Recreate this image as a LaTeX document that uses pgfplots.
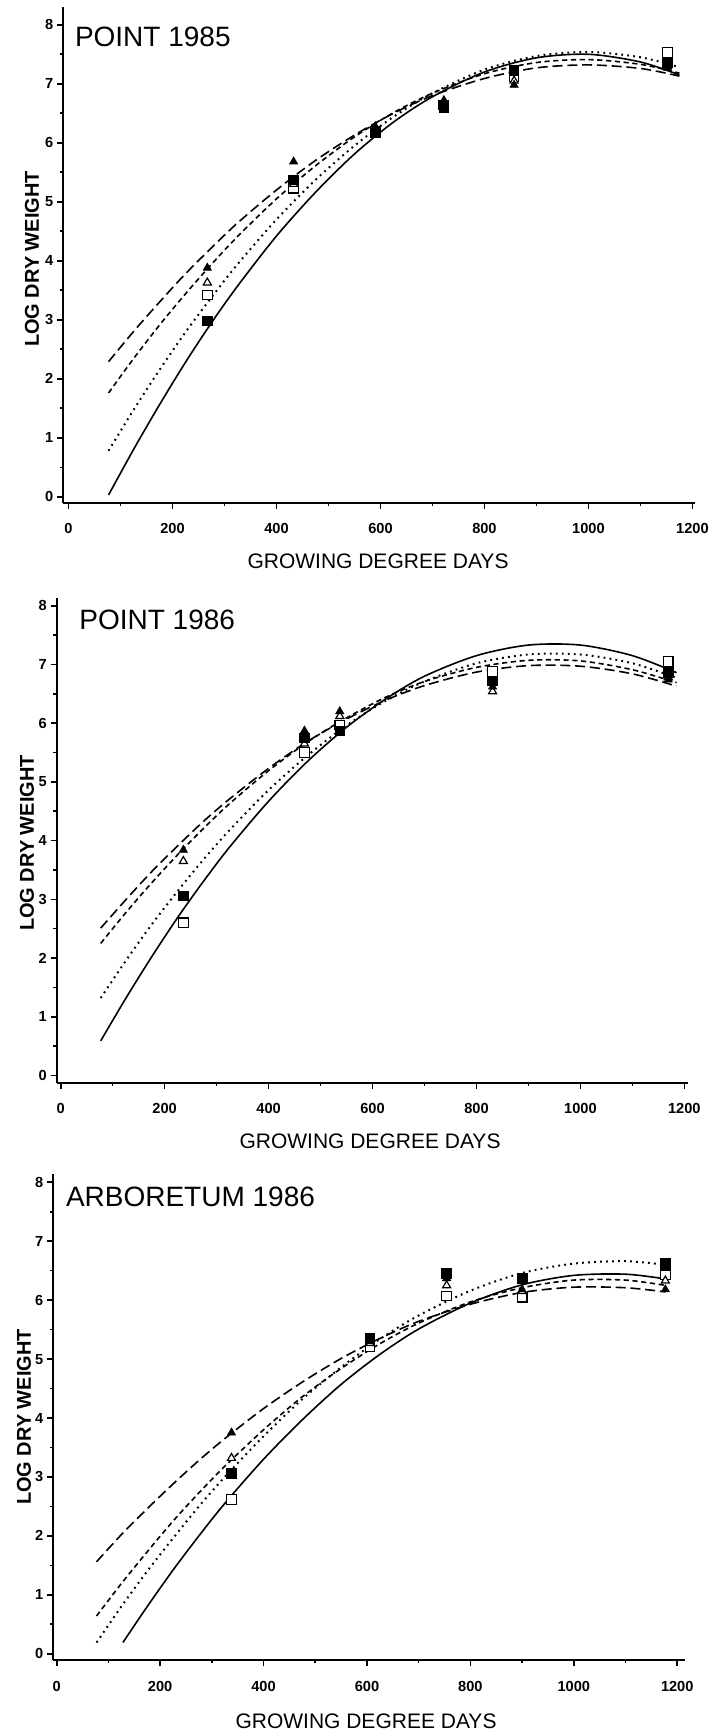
\documentclass[border=0pt]{standalone}
\usepackage{fontspec}
\setmainfont{Liberation Sans}
\usepackage{pgfplots}
\pgfplotsset{compat=1.18}
\pgfplotsset{
  gddaxis/.style={
    scale only axis,
    anchor=south west,
    axis x line=bottom, axis y line=left,
    axis line style={-, line width=1pt, black},
    every outer x axis line/.append style={-},
    every outer y axis line/.append style={-},
    xtick={0,200,...,1200}, ytick={0,1,...,8},
    minor x tick num=1, minor y tick num=1,
    tick align=outside,
    major tick length=3pt, minor tick length=1.6pt,
    tick style={line width=0.8pt, black},
    tick label style={font=\fontsize{7.3}{8}\selectfont\bfseries},
    xticklabel style={yshift=-4pt},
    yticklabel style={xshift=1.5pt},
    /pgf/number format/assume math mode=true,
    /pgf/number format/1000 sep={},
    clip=false,
  },
  sl/.style={black, line width=0.8pt, smooth, no marks},
  dt/.style={black, line width=1pt, smooth, no marks, dash pattern=on 0.9pt off 2.1pt},
  sd/.style={black, line width=0.8pt, smooth, no marks, dash pattern=on 2.6pt off 1.8pt},
  ld/.style={black, line width=0.8pt, smooth, no marks, dash pattern=on 5pt off 2.4pt},
  mfs/.style={black, only marks, mark=square*, mark size=2.4pt, mark options={solid, fill=black, draw=black}},
  mos/.style={black, only marks, mark=square*, mark size=2.4pt, mark options={solid, fill=white, draw=black, line width=0.6pt}},
  mft/.style={black, only marks, mark=triangle*, mark size=2.3pt, mark options={solid, fill=black, draw=black}},
  mot/.style={black, only marks, mark=triangle*, mark size=2.3pt, mark options={solid, fill=white, draw=black, line width=0.6pt}},
}
\begin{document}
\begin{tikzpicture}
\path[use as bounding box] (0,0) rectangle (354.5pt,-866pt);

% ---------------- POINT 1985 ----------------
\begin{axis}[gddaxis, at={(31.65pt,-251.35pt)}, width=315.85pt, height=247.8pt,
  xmin=-10, xmax=1205, ymin=-0.10, ymax=8.30]
\addplot[sl] coordinates {(77,0.03)(125,0.80)(175,1.56)(225,2.28)(275,2.95)(325,3.57)(400,4.42)(475,5.16)(550,5.81)(625,6.35)(700,6.78)(800,7.20)(900,7.44)(1000,7.50)(1100,7.37)(1175,7.15)};
\addplot[dt] coordinates {(77,0.78)(125,1.47)(175,2.15)(225,2.79)(275,3.38)(325,3.94)(400,4.70)(475,5.37)(550,5.95)(625,6.44)(700,6.84)(800,7.24)(900,7.47)(1000,7.54)(1100,7.45)(1175,7.28)};
\addplot[sd] coordinates {(77,1.76)(125,2.34)(175,2.91)(225,3.44)(275,3.94)(325,4.41)(400,5.05)(475,5.61)(550,6.10)(625,6.51)(700,6.84)(800,7.17)(900,7.36)(1000,7.41)(1100,7.33)(1175,7.18)};
\addplot[ld] coordinates {(77,2.29)(125,2.80)(175,3.30)(225,3.78)(275,4.22)(325,4.64)(400,5.20)(475,5.70)(550,6.13)(625,6.50)(700,6.80)(800,7.09)(900,7.27)(1000,7.32)(1100,7.26)(1175,7.13)};
\addplot[mos] coordinates {(267,3.42)(433,5.23)(590,6.20)(722,6.64)(857,7.12)(1152,7.53)};
\addplot[mot] coordinates {(267,3.63)(433,5.30)(590,6.25)(722,6.68)(857,7.05)(1152,7.30)};
\addplot[mft] coordinates {(267,3.88)(433,5.68)(590,6.28)(722,6.72)(857,6.98)(1152,7.27)};
\addplot[mfs] coordinates {(267,2.98)(433,5.37)(590,6.17)(722,6.60)(857,7.23)(1152,7.36)};
\end{axis}

% ---------------- POINT 1986 ----------------
\begin{axis}[gddaxis, at={(28.35pt,-541.35pt)}, width=315.65pt, height=242.6pt,
  xmin=-7.7, xmax=1207, ymin=-0.123, ymax=8.14]
\addplot[sl] coordinates {(77,0.59)(125,1.31)(175,2.02)(225,2.69)(275,3.31)(325,3.89)(400,4.67)(475,5.35)(550,5.93)(625,6.41)(700,6.80)(800,7.15)(900,7.33)(1000,7.33)(1100,7.15)(1185,6.86)};
\addplot[dt] coordinates {(77,1.32)(125,1.95)(175,2.57)(225,3.14)(275,3.68)(325,4.18)(400,4.86)(475,5.45)(550,5.96)(625,6.38)(700,6.71)(800,7.02)(900,7.17)(1000,7.17)(1100,7.02)(1185,6.77)};
\addplot[sd] coordinates {(77,2.25)(125,2.77)(175,3.28)(225,3.76)(275,4.21)(325,4.63)(400,5.19)(475,5.68)(550,6.09)(625,6.44)(700,6.71)(800,6.95)(900,7.07)(1000,7.06)(1100,6.91)(1185,6.69)};
\addplot[ld] coordinates {(77,2.51)(125,2.99)(175,3.47)(225,3.91)(275,4.33)(325,4.71)(400,5.23)(475,5.69)(550,6.07)(625,6.39)(700,6.64)(800,6.87)(900,6.98)(1000,6.97)(1100,6.84)(1185,6.63)};
\addplot[mos] coordinates {(236,2.60)(469,5.50)(537,5.97)(831,6.88)(1169,7.05)};
\addplot[mot] coordinates {(236,3.65)(469,5.65)(537,6.12)(831,6.54)(1169,6.78)};
\addplot[mft] coordinates {(236,3.84)(469,5.87)(537,6.20)(831,6.62)(1169,6.74)};
\addplot[mfs] coordinates {(236,3.06)(469,5.75)(537,5.87)(831,6.72)(1169,6.86)};
\end{axis}

% ---------------- ARBORETUM 1986 ----------------
\begin{axis}[gddaxis, at={(26.65pt,-830pt)}, width=315.85pt, height=243pt,
  xmin=-6.6, xmax=1215, ymin=-0.107, ymax=8.14]
\addplot[sl] coordinates {(128,0.19)(175,0.80)(225,1.42)(275,2.00)(325,2.55)(400,3.30)(475,3.97)(550,4.57)(625,5.08)(700,5.51)(800,5.95)(900,6.26)(1000,6.42)(1100,6.44)(1177,6.36)};
\addplot[dt] coordinates {(77,0.19)(125,0.80)(175,1.40)(225,1.96)(275,2.50)(325,3.00)(400,3.69)(475,4.32)(550,4.86)(625,5.34)(700,5.74)(800,6.16)(900,6.46)(1000,6.62)(1100,6.66)(1177,6.60)};
\addplot[sd] coordinates {(77,0.64)(125,1.19)(175,1.73)(225,2.25)(275,2.73)(325,3.18)(400,3.80)(475,4.36)(550,4.84)(625,5.26)(700,5.61)(800,5.97)(900,6.21)(1000,6.34)(1100,6.34)(1177,6.25)};
\addplot[ld] coordinates {(77,1.56)(125,2.02)(175,2.46)(225,2.88)(275,3.28)(325,3.65)(400,4.16)(475,4.61)(550,5.01)(625,5.35)(700,5.64)(800,5.93)(900,6.13)(1000,6.22)(1100,6.21)(1177,6.14)};
\addplot[mos] coordinates {(338,2.62)(606,5.21)(754,6.07)(900,6.05)(1177,6.43)};
\addplot[mot] coordinates {(338,3.32)(606,5.27)(754,6.25)(900,6.15)(1177,6.33)};
\addplot[mft] coordinates {(338,3.75)(606,5.30)(754,6.37)(900,6.18)(1177,6.18)};
\addplot[mfs] coordinates {(338,3.06)(606,5.35)(754,6.45)(900,6.37)(1177,6.62)};
\end{axis}

% titles and axis labels
\node[anchor=base west, inner sep=0pt, font=\fontsize{14}{16}\selectfont] at (37.3pt,-23.2pt) {POINT 1985};
\node[anchor=base west, inner sep=0pt, font=\fontsize{14}{16}\selectfont] at (39.5pt,-314.8pt) {POINT 1986};
\node[anchor=base west, inner sep=0pt, font=\fontsize{14}{16}\selectfont] at (32.8pt,-603pt) {ARBORETUM 1986};

\node[inner sep=0pt, font=\fontsize{10.5}{12}\selectfont] at (189pt,-280.5pt) {GROWING DEGREE DAYS};
\node[inner sep=0pt, font=\fontsize{10.5}{12}\selectfont] at (185pt,-570.5pt) {GROWING DEGREE DAYS};
\node[inner sep=0pt, font=\fontsize{10.5}{12}\selectfont] at (183pt,-860.5pt) {GROWING DEGREE DAYS};

\node[inner sep=0pt, rotate=90, font=\fontsize{10}{12}\selectfont\bfseries] at (16pt,-129.5pt) {LOG DRY WEIGHT};
\node[inner sep=0pt, rotate=90, font=\fontsize{10}{12}\selectfont\bfseries] at (13.5pt,-421.5pt) {LOG DRY WEIGHT};
\node[inner sep=0pt, rotate=90, font=\fontsize{10}{12}\selectfont\bfseries] at (12pt,-708.5pt) {LOG DRY WEIGHT};
\end{tikzpicture}
\end{document}
